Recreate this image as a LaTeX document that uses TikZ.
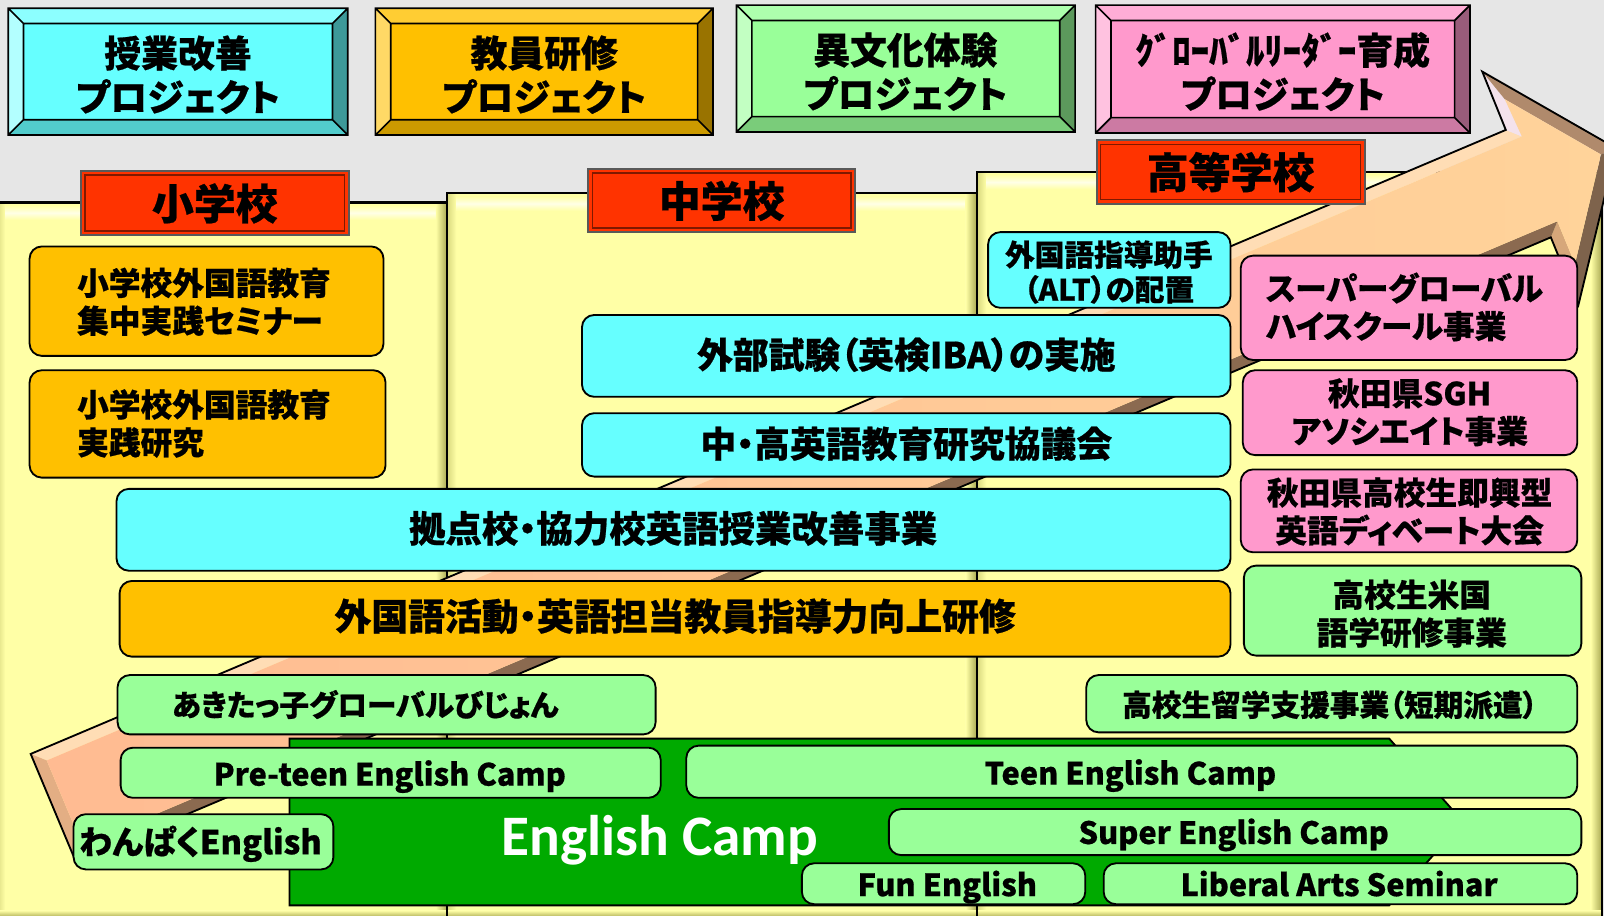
\documentclass[tikz,border=0pt]{standalone}
\usepackage{fontspec}
\newfontfamily\jp{Noto Sans CJK JP}[RawFeature=+palt, BoldFeatures={FakeBold=0.6}]
\newfontfamily\campfont{Carlito}
\definecolor{bg}{HTML}{E6E6E6}
\definecolor{pface}{HTML}{FFFFA6}
\definecolor{pleft}{HTML}{D8D87E}
\definecolor{phigh}{HTML}{FFFFE6}
\definecolor{pdark}{HTML}{A8A852}
\definecolor{cyanf}{HTML}{66FFFF}
\definecolor{orangef}{HTML}{FFC000}
\definecolor{greenf}{HTML}{99FF99}
\definecolor{pinkf}{HTML}{FF99CC}
\definecolor{redf}{HTML}{FF3300}
\definecolor{redline}{HTML}{7F1900}
\definecolor{campg}{HTML}{00AA00}
\definecolor{cyT}{HTML}{8CFFFF}\definecolor{cyL}{HTML}{B3FFFF}\definecolor{cyB}{HTML}{52CCCC}\definecolor{cyR}{HTML}{3D9999}
\definecolor{orT}{HTML}{FFCD33}\definecolor{orL}{HTML}{FFD966}\definecolor{orB}{HTML}{CC9A00}\definecolor{orR}{HTML}{997300}
\definecolor{grT}{HTML}{ADFFAD}\definecolor{grL}{HTML}{C2FFC2}\definecolor{grB}{HTML}{7ACC7A}\definecolor{grR}{HTML}{5C995C}
\definecolor{piT}{HTML}{FFADD6}\definecolor{piL}{HTML}{FFC2E0}\definecolor{piB}{HTML}{CC7AA3}\definecolor{piR}{HTML}{995C7A}
\definecolor{arUp}{HTML}{FFDDB5}
\definecolor{arBackUp}{HTML}{F4E2EC}
\definecolor{arHeadUp}{HTML}{B08A6C}
\definecolor{arHeadLow}{HTML}{7E634C}
\definecolor{arBackLow}{HTML}{D6A77A}
\definecolor{arLow}{HTML}{8B6A50}
\definecolor{arTail}{HTML}{E3AE84}
\definecolor{arFaceA}{HTML}{FFBB92}
\definecolor{arFaceB}{HTML}{FFD39A}
\newcommand\fsz[2]{\fontsize{#1}{#2}\selectfont}
\newcommand\bev[9]{%
 \fill[#6] (#1,#2) -- (#3,#2) -- ({#3-15},{#2+15}) -- ({#1+15},{#2+15}) -- cycle;
 \fill[#7] (#1,#2) -- ({#1+15},{#2+15}) -- ({#1+15},{#4-15}) -- (#1,#4) -- cycle;
 \fill[#8] (#1,#4) -- ({#1+15},{#4-15}) -- ({#3-15},{#4-15}) -- (#3,#4) -- cycle;
 \fill[#9] (#3,#2) -- (#3,#4) -- ({#3-15},{#4-15}) -- ({#3-15},{#2+15}) -- cycle;
 \fill[#5] ({#1+15},{#2+15}) rectangle ({#3-15},{#4-15});
 \draw[bevline] (#1,#2) rectangle (#3,#4) ({#1+15},{#2+15}) rectangle ({#3-15},{#4-15})
   (#1,#2) -- ({#1+15},{#2+15}) (#3,#2) -- ({#3-15},{#2+15})
   (#1,#4) -- ({#1+15},{#4-15}) (#3,#4) -- ({#3-15},{#4-15});}
\newcommand\panel[4]{%
 \fill[pface] (#1,#2) rectangle (#3,#4);
 \shade[left color=pleft, right color=pface] (#1,#2) rectangle ({#1+9},#4);
 \shade[top color=pface, bottom color=pface, middle color=phigh] ({#1+9},{#2+3}) rectangle ({#3-10},{#2+17});
 \shade[left color=pface, right color=pdark] ({#3-11},#2) rectangle (#3,#4);
 \shade[top color=pface, bottom color=pdark] (#1,{#4-7}) rectangle (#3,#4);
 \draw[line width=1.1pt] (#1,#4) -- (#1,#2) -- (#3,#2) -- (#3,#4);}
\newcommand\school[6]{%
 \fill[redf] (#2,#3) rectangle (#4,#5);
 \draw[draw=black!65, line width=1pt] (#2,#3) rectangle (#4,#5);
 \draw[draw=redline, line width=0.7pt] ({#2+4},{#3+4}) rectangle ({#4-4},{#5-4});
 \node[txt, font=\jp\bfseries\fsz{20.5pt}{24pt}] (#1) at ({(#2+#4)/2},{(#3+#5)/2+4}) {#6};}
\newcommand\rbx[6]{%
 \node[rbox, fill=#6, anchor=north west, minimum width={(#4-#2)*0.5pt}, minimum height={(#5-#3)*0.5pt}] (#1) at (#2,#3) {};}
\begin{document}
\begin{tikzpicture}[x=0.5pt,y=-0.5pt,
  bevline/.style={draw=black, line width=0.8pt},
  rbox/.style={draw=black, line width=0.9pt, rounded corners=6pt, inner sep=0pt},
  txt/.style={inner sep=0pt, align=center, text height=0.88em, text depth=0.12em, yshift=-2.2pt},
  txtm/.style={inner sep=0pt, align=center, yshift=-1pt},
  jtxt/.style={txt, font=\jp\bfseries\fsz{17.5pt}{21pt}},
  mtxt/.style={txtm, yshift=1.5pt, font=\jp\bfseries\fsz{15.5pt}{18.5pt}},
  stxt/.style={txt, font=\jp\bfseries\fsz{14.5pt}{17pt}},
  stxtm/.style={txtm, font=\jp\bfseries\fsz{14.5pt}{17pt}},
  etxt/.style={txt, font=\jp\bfseries\fsz{15pt}{18pt}},
  toptxt/.style={txtm, font=\jp\bfseries\fsz{18pt}{21.5pt}}]
\useasboundingbox (0,0) rectangle (1568,895.4);
\clip (0,0) rectangle (1568,895.4);
\fill[bg] (0,0) rectangle (1568,895.4);
% panels
\panel{-4}{198}{437}{897}
\panel{437}{189}{955}{897}
\panel{955}{168}{1566}{897}
% big arrow
\coordinate (T1) at (30,737); \coordinate (N1) at (1472,127); \coordinate (B1) at (1449,70);
\coordinate (P) at (1580,145); \coordinate (B2) at (1543,298); \coordinate (N2) at (1516,232);
\coordinate (T2) at (74,842);
\coordinate (T1i) at (45.7,743.4); \coordinate (N1i) at (1487.7,133.4); \coordinate (B1i) at (1471,97);
\coordinate (Pi) at (1565,151); \coordinate (B2i) at (1539.6,258); \coordinate (N2i) at (1522.4,216.3);
\coordinate (T2i) at (80.4,826.3);
\fill[arUp] (T1)--(N1)--(N1i)--(T1i)--cycle;
\fill[arBackUp] (N1)--(B1)--(B1i)--(N1i)--cycle;
\fill[arHeadUp] (B1)--(P)--(Pi)--(B1i)--cycle;
\fill[arHeadLow] (P)--(B2)--(B2i)--(Pi)--cycle;
\fill[arBackLow] (B2)--(N2)--(N2i)--(B2i)--cycle;
\fill[arLow] (N2)--(T2)--(T2i)--(N2i)--cycle;
\fill[arTail] (T2)--(T1)--(T1i)--(T2i)--cycle;
\shade[left color=arFaceA, right color=arFaceB] (T1i)--(N1i)--(B1i)--(Pi)--(B2i)--(N2i)--(T2i)--cycle;
\draw[line width=0.9pt] (T1)--(N1)--(B1)--(P)--(B2)--(N2)--(T2)--cycle;
% school labels
\school{sho}{79}{167}{341}{230}{小学校}
\school{chu}{575}{165}{836}{227}{中学校}
\school{ko}{1072}{137}{1334}{199}{高等学校}
% top project boxes
\bev{8}{8}{340}{132}{cyanf}{cyT}{cyL}{cyB}{cyR}
\node[toptxt] (p1) at (174,71) {授業改善\\プロジェクト};
\bev{367}{8}{697}{132}{orangef}{orT}{orL}{orB}{orR}
\node[toptxt] (p2) at (532,71) {教員研修\\プロジェクト};
\bev{720}{5}{1051}{129}{greenf}{grT}{grL}{grB}{grR}
\node[toptxt] (p3) at (885,68) {異文化体験\\プロジェクト};
\bev{1071}{5}{1437}{130}{pinkf}{piT}{piL}{piB}{piR}
\node[toptxt] (p4) at (1254,68) {ｸﾞﾛｰﾊﾞﾙﾘｰﾀﾞｰ育成\\プロジェクト};
% English Camp base
\fill[campg, draw=black, line width=0.9pt] (283,722) -- (1358,722) -- (1430,803) -- (1358,885) -- (283,885) -- cycle;
\node[txt, font=\campfont\bfseries\fsz{28pt}{32pt}, text=white] (camp) at (645,824) {English Camp};
% boxes
\rbx{sem}{28}{240}{374}{347}{orangef}
\node[mtxt, anchor=west, align=left] (semt) at (75,296) {小学校外国語教育\\集中実践セミナー};
\rbx{ken}{28}{361}{376}{466}{orangef}
\node[mtxt, anchor=west, align=left] (kent) at (75,415) {小学校外国語教育\\実践研究};
\rbx{alt}{965}{226}{1202}{300}{cyanf}
\node[stxtm] (altt) at (1084,264) {外国語指導助手\\（ALT）の配置};
\rbx{gai}{568}{307}{1202}{387}{cyanf}
\node[jtxt] (gait) at (886,348) {外部試験（英検IBA）の実施};
\rbx{kyo}{568}{403}{1202}{465}{cyanf}
\node[jtxt] (kyot) at (886,435) {中・高英語教育研究協議会};
\rbx{kyt}{113}{477}{1202}{557}{cyanf}
\node[jtxt, font=\jp\bfseries\fsz{17.8pt}{21pt}] (kytt) at (658,518) {拠点校・協力校英語授業改善事業};
\rbx{kat}{116}{567}{1202}{641}{orangef}
\node[jtxt, font=\jp\bfseries\fsz{18pt}{21pt}] (katt) at (660,604) {外国語活動・英語担当教員指導力向上研修};
\rbx{sg}{1212}{249}{1541}{351}{pinkf}
\node[mtxt, anchor=west, align=left] (sgt) at (1237,301) {スーパーグローバル\\ハイスクール事業};
\rbx{sgh}{1214}{361}{1541}{444}{pinkf}
\node[mtxt] (sght) at (1378,404) {秋田県SGH\\アソシエイト事業};
\rbx{deb}{1212}{458}{1541}{539}{pinkf}
\node[mtxt] (debt) at (1378,501) {秋田県高校生即興型\\英語ディベート大会};
\rbx{bei}{1215}{552}{1545}{640}{greenf}
\node[mtxt] (beit) at (1380,601) {高校生米国\\語学研修事業};
\rbx{ryu}{1061}{659}{1541}{715}{greenf}
\node[stxt] (ryut) at (1300,688) {高校生留学支援事業（短期派遣）};
\rbx{aki}{114}{659}{640}{717}{greenf}
\node[stxt] (akit) at (357,688) {あきたっ子グローバルびじょん};
\rbx{pre}{117}{730}{645}{779}{greenf}
\node[etxt] (pret) at (381,756) {Pre-teen English Camp};
\rbx{teen}{670}{728}{1541}{779}{greenf}
\node[etxt] (teent) at (1105,755) {Teen English Camp};
\rbx{wan}{71}{795}{325}{849}{greenf}
\node[etxt, font=\jp\bfseries\fsz{16pt}{18pt}] (want) at (196,823) {わんぱくEnglish};
\rbx{sup}{868}{790}{1545}{835}{greenf}
\node[etxt] (supt) at (1206,813) {Super English Camp};
\rbx{fun}{783}{843}{1060}{883}{greenf}
\node[etxt] (funt) at (926,864) {Fun English};
\rbx{lib}{1078}{843}{1541}{883}{greenf}
\node[etxt] (libt) at (1309,864) {Liberal Arts Seminar};
\end{tikzpicture}
\end{document}
